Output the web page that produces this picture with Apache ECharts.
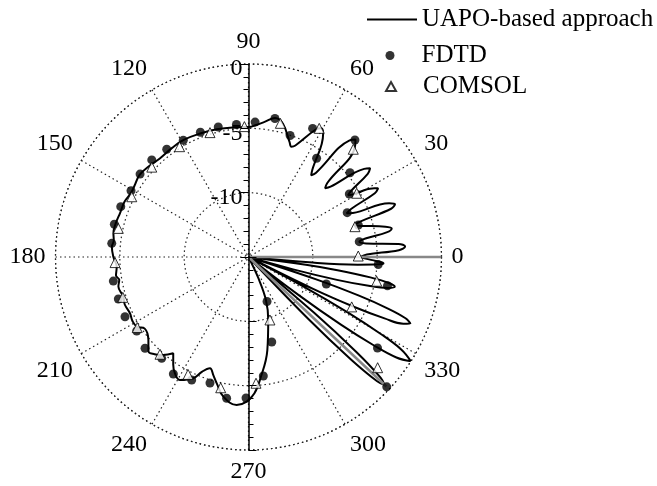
<!DOCTYPE html>
<html>
<head>
<meta charset="utf-8">
<title>Polar pattern</title>
<script src="https://cdn.jsdelivr.net/npm/echarts@6/dist/echarts.min.js"></script>
<style>
  html, body { margin: 0; padding: 0; background: #fff; }
  #myChart { width: 657px; height: 486px; }
</style>
</head>
<body>
<div id="myChart"></div>
<script>
// UAPO-based approach curve: angle (deg) / level (dB), -15 = centre
const uapoAngle = [
  0, 1.2, 2.6, 3.8, 5.0, 6.6, 7.8, 9.0, 10.1, 11.3, 12.5, 15.4, 16.6, 17.6, 18.7, 19.8,
  20.9, 22.9, 24, 25.1, 26.8, 27.9, 29.0, 30.8, 31.8, 32.8, 34.9, 36.1, 37.3, 40.6, 41.9,
  43.2, 46.3, 47.7, 49.1, 51.3, 52.5, 53.8, 58.8, 60.5, 62.2, 67.2, 68.8, 70.4, 75.5,
  79.2, 83, 87, 90, 97, 104, 111, 119, 125, 132, 137, 143, 148, 151.5, 156, 161,
  166, 170, 173, 175.7, 180, 184.2, 188, 190, 192.8, 197.6, 201, 205.4, 209, 212,
  214.6, 219.6, 223.4, 226, 229, 232, 235, 237.7, 240.9, 245.5, 248, 250.9, 253.5,
  255.9, 259.8, 265.4, 269.3, 272.5, 275.3, 281.4, 287.5, 292.1, 295, 298,
  313, 314, 315, 316, 316.8, 317.6, 318.6, 319.6, 320.6,
  321.8, 322.8, 323.8, 324.8, 325.8, 327.3, 328.8, 329.8, 330.8, 331.8, 332.8,
  333.7, 334.7, 335.7, 336.7, 337.7, 338.7, 339.7, 340.7, 341.7, 342.7,
  343.5, 344.5, 345.5, 346.5, 347.5, 348.5, 349.5, 350.5, 351.5, 352.2, 353,
  355, 356, 356.8, 357.4, 358.2, 359.2, 360
];
const uapoDb = [
  -6.3, -5.8, -3.3, -2.8, -3.3, -5.8, -6.3, -5.8, -4.1, -3.65, -4.1, -5.9, -6.4, -5.9, -3.3, -2.9,
  -3.3, -6.2, -6.65, -6.2, -4.0, -3.6, -4.0, -5.5, -5.9, -5.5, -3.7, -3.3, -3.7, -6.6, -7.0,
  -6.6, -3.0, -2.65, -3.0, -6.6, -7.0, -6.6, -3.8, -3.5, -3.8, -5.6, -5.8, -5.5, -4.3,
  -4.0, -4.4, -4.75, -4.9, -4.85, -4.77, -4.7, -4.6, -4.65, -4.7, -4.55, -4.4, -4.55, -4.6, -4.45, -4.45,
  -4.35, -4.34, -4.45, -4.35, -4.5, -4.73, -4.6, -4.8, -4.63, -4.8, -4.7, -4.8, -4.7, -4.77,
  -5.2, -4.9, -4.3, -4.5, -4.9, -5.5, -4.8, -4.3, -4.06, -4.64, -5.4, -5.85, -5.4,
  -4.87, -3.97, -3.46, -3.76, -4.4, -5.4, -7.6, -9.9, -11.4, -13.2, -15,
  -15, -8.3, -3.8, -1.1, -0.5, -1.1, -3.8, -8.3, -15,
  -15, -10.1, -6.1, -3.1, -1.1, 0, -1.1, -3.1, -6.1, -10.1, -15,
  -9.4, -5.9, -3.4, -1.9, -1.4, -1.9, -3.4, -5.9, -9.4, -15,
  -15, -11.4, -7.9, -5.4, -3.9, -3.4, -3.9, -5.4, -7.9, -10.5, -15,
  -10, -6.5, -4.8, -4.5, -5.1, -5.9, -6.3
];

// FDTD points
const fdtdAngle = [
  356.7, 7.9, 16.2, 24.2, 32.0, 39.7, 47.7, 55.4, 63.5, 71.1, 79.2, 87.2, 95.2, 103.1,
  111.1, 119.2, 127.2, 134.9, 142.6, 150.6, 158.5, 166.3, 174.3, 190.1, 197.9, 205.8,
  213.5, 221.4, 229.4, 237.3, 245.2, 253.0, 261.2, 269.0, 277.1, 285.3, 292.6, 316.8,
  324.8, 340.9, 348.3
];
const fdtdDb = [
  -4.90, -6.31, -6.11, -6.59, -5.76, -4.75, -2.71, -5.68, -3.83, -5.02, -4.04, -4.50, -4.66, -4.63,
  -4.61, -4.61, -4.49, -4.35, -4.39, -4.52, -4.33, -4.27, -4.32, -4.33, -4.37, -4.34,
  -4.58, -4.28, -4.63, -4.19, -4.47, -4.76, -3.89, -4.04, -5.68, -8.15, -11.25, -0.26,
  -2.73, -8.60, -3.97
];

// COMSOL points
const comsolAngle = [
  0.5, 15.9, 30.5, 45.8, 61.2, 76.6, 91.8, 107.2, 122.0, 137.1, 152.7, 167.6, 182.4,
  197.8, 212.4, 227.7, 242.8, 258.0, 273.4, 288.8, 319.4, 334.2, 349.3
];
const comsolDb = [
  -6.47, -6.40, -5.24, -3.32, -3.59, -4.32, -4.86, -4.88, -4.89, -4.74, -4.79, -4.64, -4.62,
  -4.74, -4.76, -4.78, -4.73, -4.61, -5.17, -9.83, -1.78, -6.09, -4.86
];

// grey reference directions
const refAngle = [0, 316.8];
const refDb = [0, -0.3];

const FONT = "Liberation Serif";
const dotted = [1.5, 3];

function toPolar(angles, dbs) {
  return angles.map((a, i) => [dbs[i], a]);
}

let chart = echarts.init(document.getElementById("myChart"));

let polarBox = { center: [248.5, 257], radius: 193 };
let radiusBase = { type: "value", min: -15, max: 0, interval: 5 };
let legendText = { fontFamily: FONT, fontSize: 25, color: "#000" };

let series = [
  {
    name: "UAPO-based approach",
    type: "line",
    coordinateSystem: "polar",
    polarIndex: 0,
    symbol: "none",
    smooth: 0.4,
    lineStyle: { color: "#000", width: 2 },
    itemStyle: { color: "#000" },
    z: 3,
    data: toPolar(uapoAngle, uapoDb)
  },
  {
    name: "FDTD",
    type: "scatter",
    coordinateSystem: "polar",
    polarIndex: 0,
    symbol: "circle",
    symbolSize: 9,
    itemStyle: { color: "#000" },
    z: 5,
    data: toPolar(fdtdAngle, fdtdDb)
  },
  {
    name: "COMSOL",
    type: "scatter",
    coordinateSystem: "polar",
    polarIndex: 0,
    symbol: "triangle",
    symbolSize: 10,
    itemStyle: { color: "#fff", borderColor: "#000", borderWidth: 1 },
    z: 6,
    data: toPolar(comsolAngle, comsolDb)
  }
];

// grey lines from centre
refAngle.forEach((a, i) => {
  series.push({
    type: "line",
    coordinateSystem: "polar",
    polarIndex: 0,
    symbol: "none",
    silent: true,
    lineStyle: { color: "#888", width: 2.5 },
    z: 4,
    data: [[-15, a], [refDb[i], a]]
  });
});

let option = {
  animation: false,
  // one legend per entry so every icon keeps its own size
  legend: [
    {
      data: [{ name: "UAPO-based approach", icon: "rect" }],
      left: 367, top: 7, padding: 0, itemWidth: 50, itemHeight: 2,
      textStyle: legendText
    },
    {
      data: [{ name: "FDTD", icon: "circle" }],
      left: 385.5, top: 43, padding: 0, itemWidth: 9, itemHeight: 9,
      textStyle: Object.assign({ padding: [0, 0, 0, 22] }, legendText)
    },
    {
      data: [{ name: "COMSOL", icon: "triangle" }],
      left: 385, top: 74, padding: 0, itemWidth: 10, itemHeight: 9,
      textStyle: Object.assign({ padding: [0, 0, 0, 22] }, legendText)
    }
  ],
  polar: [polarBox, polarBox, polarBox],
  angleAxis: [
    {
      polarIndex: 0,
      type: "value",
      min: 0,
      max: 360,
      interval: 30,
      startAngle: 0,
      clockwise: false,
      axisLine: { lineStyle: { color: "#222", width: 1.2, type: dotted } },
      axisTick: { show: false },
      axisLabel: {
        margin: 10,
        fontFamily: FONT,
        fontSize: 24,
        color: "#000",
        formatter: (v) => (v === 360 ? "" : String(v))
      },
      splitLine: { lineStyle: { color: "#222", width: 1.2, type: dotted } }
    },
    { polarIndex: 1, type: "value", min: 0, max: 360, startAngle: 90, show: false },
    { polarIndex: 2, type: "value", min: 0, max: 360, startAngle: 270, show: false }
  ],
  radiusAxis: [
    Object.assign({}, radiusBase, {
      polarIndex: 0,
      axisLine: { show: false },
      axisTick: { show: false },
      axisLabel: { show: false },
      splitLine: { lineStyle: { color: "#222", width: 1.2, type: dotted } }
    }),
    Object.assign({}, radiusBase, {
      polarIndex: 1,
      z: 10,
      axisLine: { lineStyle: { color: "#000", width: 1.5 } },
      axisTick: { inside: true, length: 8, lineStyle: { color: "#000" } },
      minorTick: { show: true, splitNumber: 5, length: 5, lineStyle: { color: "#000" } },
      axisLabel: {
        margin: 6,
        verticalAlign: "top",
        lineHeight: 10,
        fontFamily: FONT,
        fontSize: 24,
        color: "#000",
        formatter: (v) => (v === -15 ? "" : String(v))
      },
      splitLine: { show: false }
    }),
    Object.assign({}, radiusBase, {
      polarIndex: 2,
      z: 10,
      axisLine: { lineStyle: { color: "#000", width: 1.5 } },
      axisTick: { length: 8, lineStyle: { color: "#000" } },
      minorTick: { show: true, splitNumber: 5, length: 5, lineStyle: { color: "#000" } },
      axisLabel: { show: false },
      splitLine: { show: false }
    })
  ],
  series: series
};

chart.setOption(option);
</script>
</body>
</html>
